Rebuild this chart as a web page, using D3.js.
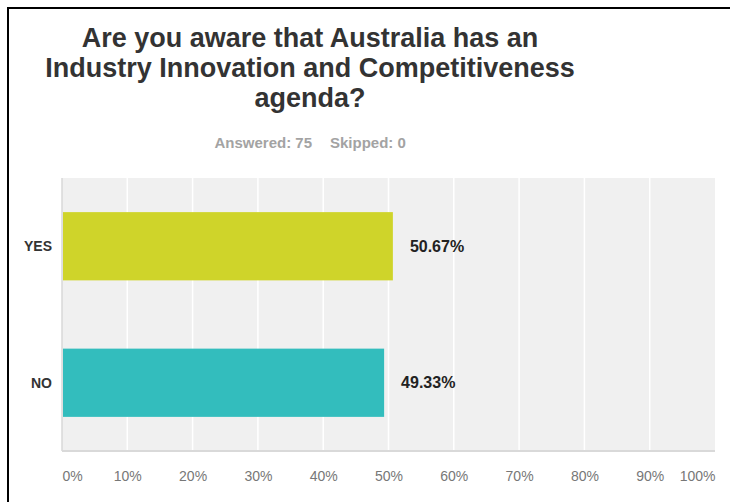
<!DOCTYPE html>
<html>
<head>
<meta charset="utf-8">
<script src="https://cdn.jsdelivr.net/npm/d3@7"></script>
<style>
  html, body { margin: 0; padding: 0; background: #fff; }
  svg { display: block; }
  text { font-family: "Liberation Sans", Arial, Helvetica, sans-serif; }
</style>
</head>
<body>
<svg id="chart" width="730" height="502"></svg>
<script>
// ---- data ----
const titleLines = ["Are you aware that Australia has an", "Industry Innovation and Competitiveness", "agenda?"];
const answeredText = "Answered: 75";
const skippedText = "Skipped: 0";
const categories = ["YES", "NO"];
const values = [50.67, 49.33];
const barColors = ["#cfd42a", "#33bdbd"];
const tickValues = [0, 10, 20, 30, 40, 50, 60, 70, 80, 90, 100];
const tickLabels = ["0%", "10%", "20%", "30%", "40%", "50%", "60%", "70%", "80%", "90%", "100%"];

// ---- layout ----
const W = 730, H = 502;
const plot = { left: 62, right: 715, top: 178, bottom: 451 };
const svg = d3.select("#chart");

// frame (left and top border)
svg.append("line").attr("x1", 8).attr("x2", 8).attr("y1", 7).attr("y2", H).attr("stroke", "#000").attr("stroke-width", 2);
svg.append("line").attr("x1", 7).attr("x2", W).attr("y1", 8).attr("y2", 8).attr("stroke", "#000").attr("stroke-width", 2);

// title
const titleX = 310;
const title = svg.append("g");
titleLines.forEach((t, i) => {
  title.append("text")
    .attr("x", titleX).attr("y", 46.5 + i * 30)
    .attr("text-anchor", "middle")
    .attr("font-size", 27).attr("font-weight", "bold")
    .attr("fill", "#333")
    .text(t);
});

// subtitle
svg.append("text").attr("x", 312).attr("y", 148).attr("text-anchor", "end")
  .attr("font-size", 15).attr("font-weight", "bold").attr("fill", "#a3a3a3").text(answeredText);
svg.append("text").attr("x", 330).attr("y", 148).attr("text-anchor", "start")
  .attr("font-size", 15).attr("font-weight", "bold").attr("fill", "#a3a3a3").text(skippedText);

// scales
const x = d3.scaleLinear().domain([0, 100]).range([plot.left, plot.right]);
const y = d3.scaleBand().domain(categories).range([plot.top, plot.bottom]).paddingInner(0.5).paddingOuter(0.25);

// plot background
svg.append("rect").attr("x", plot.left).attr("y", plot.top)
  .attr("width", plot.right - plot.left).attr("height", plot.bottom - plot.top)
  .attr("fill", "#f0f0f0");

// gridlines
svg.append("g").selectAll("line").data(tickValues.filter(v => v > 0 && v < 100)).join("line")
  .attr("x1", d => x(d)).attr("x2", d => x(d))
  .attr("y1", plot.top).attr("y2", plot.bottom)
  .attr("stroke", "#fff").attr("stroke-width", 1.5);

// axis lines
svg.append("line").attr("x1", plot.left).attr("x2", plot.left).attr("y1", plot.top).attr("y2", plot.bottom)
  .attr("stroke", "#d9d9d9").attr("stroke-width", 1.5);
svg.append("line").attr("x1", plot.left).attr("x2", plot.right).attr("y1", plot.bottom).attr("y2", plot.bottom)
  .attr("stroke", "#d9d9d9").attr("stroke-width", 2);

// bars
svg.append("g").selectAll("rect").data(categories).join("rect")
  .attr("x", x(0) + 1)
  .attr("y", d => y(d))
  .attr("width", (d, i) => x(values[i]) - x(0) - 1)
  .attr("height", y.bandwidth())
  .attr("fill", (d, i) => barColors[i]);

// value labels
svg.append("g").selectAll("text").data(categories).join("text")
  .attr("x", (d, i) => x(values[i]) + 17)
  .attr("y", d => y(d) + y.bandwidth() / 2)
  .attr("dy", "0.35em")
  .attr("font-size", 16).attr("font-weight", "bold").attr("fill", "#222")
  .text((d, i) => values[i].toFixed(2) + "%");

// category labels
svg.append("g").selectAll("text").data(categories).join("text")
  .attr("x", 52)
  .attr("y", d => y(d) + y.bandwidth() / 2)
  .attr("dy", "0.35em")
  .attr("text-anchor", "end")
  .attr("font-size", 14).attr("font-weight", "bold").attr("fill", "#333")
  .text(d => d);

// x axis tick labels
const xAxis = d3.axisBottom(x).tickValues(tickValues).tickSize(0).tickPadding(0)
  .tickFormat((d, i) => tickLabels[i]);
const gx = svg.append("g").attr("transform", `translate(0,${plot.bottom + 20})`).call(xAxis);
gx.select(".domain").remove();
gx.selectAll("text")
  .attr("font-family", "\"Liberation Sans\", Arial, Helvetica, sans-serif")
  .attr("font-size", 14).attr("fill", "#777")
  .attr("dy", "0.71em")
  .attr("text-anchor", (d, i) => i === 0 ? "start" : (i === tickValues.length - 1 ? "end" : "middle"));
</script>
</body>
</html>
